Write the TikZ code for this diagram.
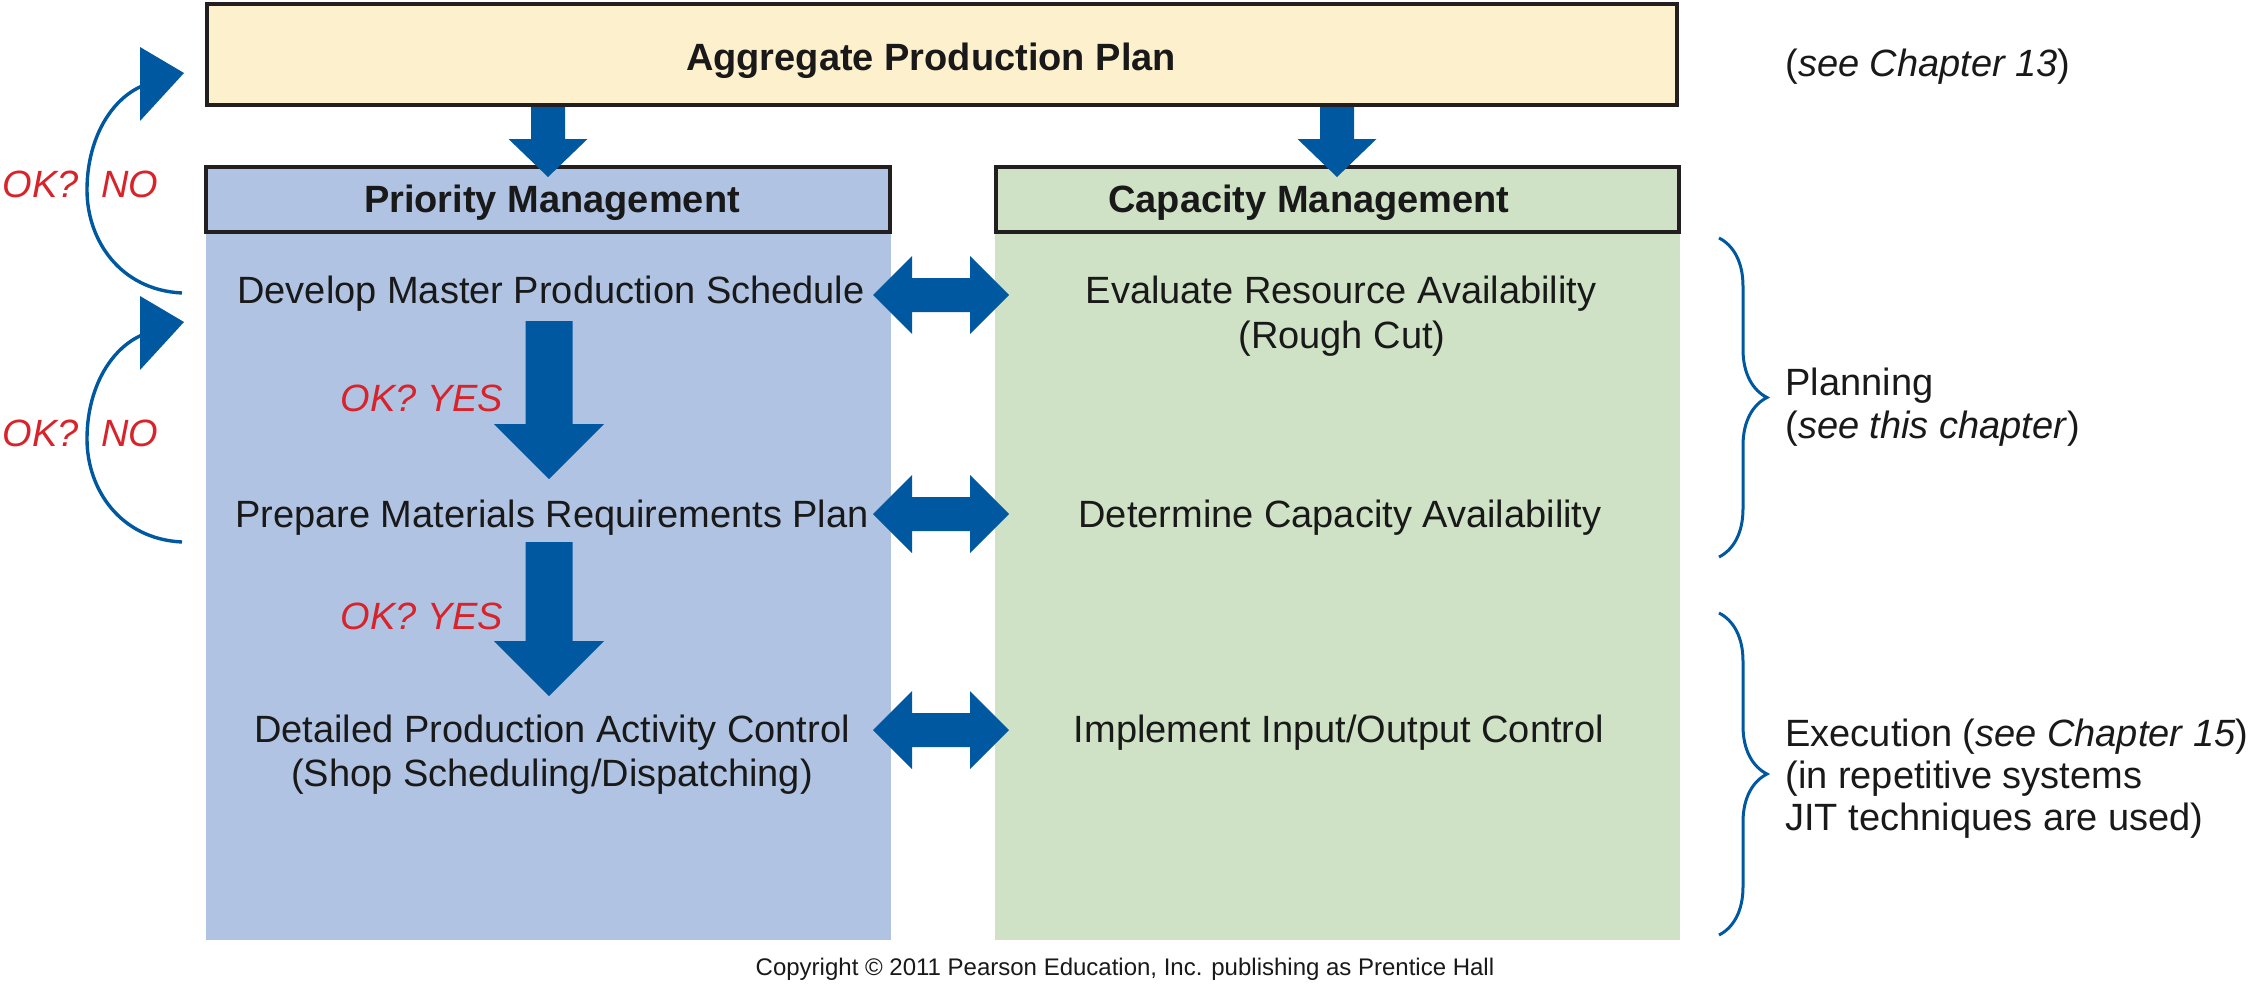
\documentclass[tikz,border=0pt]{standalone}
\usepackage{fontspec}
\setmainfont{Liberation Sans}
\usetikzlibrary{decorations.pathreplacing}
\definecolor{aggfill}{RGB}{253,240,205}
\definecolor{prifill}{RGB}{176,195,226}
\definecolor{capfill}{RGB}{207,226,197}
\definecolor{arrowblue}{RGB}{0,88,160}
\definecolor{okred}{RGB}{216,35,42}
\definecolor{edgecol}{RGB}{35,31,32}
\begin{document}
\begin{tikzpicture}[x=0.5pt,y=-0.5pt,
  txt/.style={font=\fontsize{19pt}{22pt}\selectfont, inner sep=0pt, text=black!90},
  hdr/.style={inner sep=0pt, text=black!90, font=\fontsize{19pt}{22pt}\selectfont\bfseries},
  ok/.style={inner sep=0pt, text=okred, font=\fontsize{19pt}{22pt}\selectfont\itshape},
  box/.style={draw=edgecol, line width=2.2pt, inner sep=0pt},
  brc/.style={draw=arrowblue, line width=1.5pt, decorate, decoration={brace, amplitude=24pt}},
  pics/fatdown/.style n args={4}{code={\fill[arrowblue] (-#1,0) -- (#1,0) -- (#1,#3) -- (#2,#3) -- (0,#4) -- (-#2,#3) -- (-#1,#3) -- cycle;}},
  pics/dblarrow/.style={code={\fill[arrowblue] (-68,0) -- (-29,-39) -- (-29,-17) -- (29,-17) -- (29,-39) -- (68,0) -- (29,39) -- (29,17) -- (-29,17) -- (-29,39) -- cycle;}},
  pics/loopback/.style={code={\draw[arrowblue, line width=1.7pt] (0,0) .. controls (-62,-3) and (-95,-53) .. (-95,-103) .. controls (-95,-153) and (-72,-193) .. (-40,-207); \fill[arrowblue] (-42,-246) -- (2,-220) -- (-42,-172) -- cycle;}}
]
\path[use as bounding box, fill=white] (0,0) rectangle (2250,1002);

% column bodies
\fill[prifill] (206,232) rectangle (891,940);
\fill[capfill] (995,232) rectangle (1680,940);

% boxes
\node[box, fill=aggfill, minimum width=734.8pt, minimum height=50.3pt] (agg) at (942,54.5) {};
\node[box, fill=prifill, minimum width=341.8pt, minimum height=32.3pt] (prihdr) at (548,199.5) {};
\node[box, fill=capfill, minimum width=341.3pt, minimum height=32.3pt] (caphdr) at (1337.5,199.5) {};

% titles
\node[hdr, anchor=base] (aggtxt) at (931,70) {Aggregate Production Plan};
\node[txt, anchor=base west] (ch13) at (1785,76) {(\textit{see Chapter 13})};
\node[hdr, anchor=base] (pritxt) at (552,212) {Priority Management};
\node[hdr, anchor=base] (captxt) at (1309,212) {Capacity Management};

% left column
\node[txt, anchor=base] (mps) at (551,303) {Develop Master Production Schedule};
\node[txt, anchor=base] (mrp) at (552,527) {Prepare Materials Requirements Plan};
\node[txt, anchor=base] (pac1) at (552,742) {Detailed Production Activity Control};
\node[txt, anchor=base] (pac2) at (552,786) {(Shop Scheduling/Dispatching)};

% right column
\node[txt, anchor=base] (rcc1) at (1341,303) {Evaluate Resource Availability};
\node[txt, anchor=base] (rcc2) at (1342,348) {(Rough Cut)};
\node[txt, anchor=base] (crp) at (1340,527) {Determine Capacity Availability};
\node[txt, anchor=base] (ioc) at (1339,742) {Implement Input/Output Control};

% arrows from aggregate plan
\coordinate (a1) at (548,107);
\coordinate (a2) at (1337,107);
\pic at (a1) {fatdown={17}{39.5}{32}{70}};
\pic at (a2) {fatdown={17}{39.5}{32}{70}};

% down arrows in priority column
\coordinate (d1) at (549,321);
\coordinate (d2) at (549,542);
\pic at (d1) {fatdown={23.5}{55}{103}{158}};
\pic at (d2) {fatdown={23.5}{55}{99}{154}};
\node[ok, anchor=base] (yes1) at (422,411) {OK? YES};
\node[ok, anchor=base] (yes2) at (422,629) {OK? YES};

% double arrows
\coordinate (h1) at (941,295);
\coordinate (h2) at (941,514);
\coordinate (h3) at (941,730);
\pic at (h1) {dblarrow};
\pic at (h2) {dblarrow};
\pic at (h3) {dblarrow};

% feedback loops
\coordinate (l1) at (182,293);
\coordinate (l2) at (182,542);
\pic at (l1) {loopback};
\pic at (l2) {loopback};
\node[ok, anchor=base] (ok1) at (41,197) {OK?};
\node[ok, anchor=base] (no1) at (129.5,197) {NO};
\node[ok, anchor=base] (ok2) at (41,446) {OK?};
\node[ok, anchor=base] (no2) at (129.5,446) {NO};

% braces
\coordinate (b1t) at (1719,238);
\coordinate (b1b) at (1719,557);
\coordinate (b2t) at (1719,613);
\coordinate (b2b) at (1719,935);
\draw[brc] (b1t) -- (b1b);
\draw[brc] (b2t) -- (b2b);

\node[txt, anchor=base west] (plan1) at (1785,395) {Planning};
\node[txt, anchor=base west] (plan2) at (1785,438) {(\textit{see this chapter})};
\node[txt, anchor=base west] (exe1) at (1785,746) {Execution (\textit{see Chapter 15})};
\node[txt, anchor=base west] (exe2) at (1785,788) {(in repetitive systems};
\node[txt, anchor=base west] (exe3) at (1785,830) {JIT techniques are used)};

\node[inner sep=0pt, anchor=base, text=black!90, font=\fontsize{12pt}{14pt}\selectfont] (copy) at (1125,975) {Copyright © 2011 Pearson Education, Inc. publishing as Prentice Hall};
\end{tikzpicture}
\end{document}
